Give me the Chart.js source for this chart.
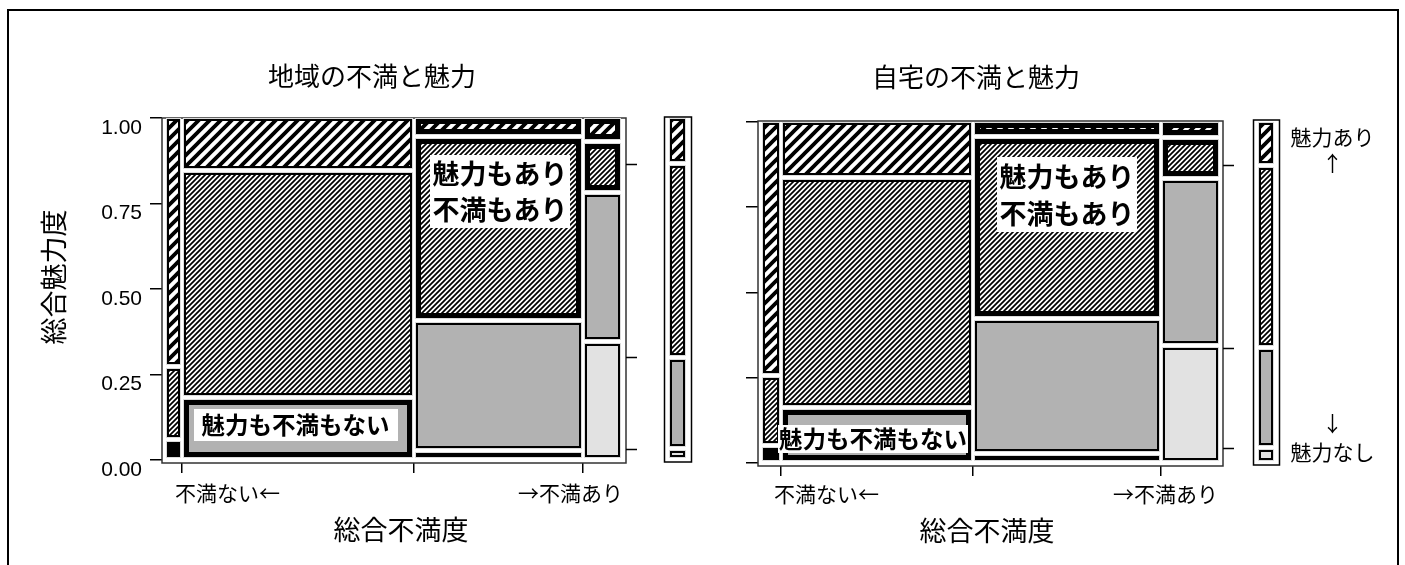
<!DOCTYPE html>
<html lang="ja"><head><meta charset="utf-8">
<title>地域・自宅の不満と魅力</title>
<script src="https://cdn.jsdelivr.net/npm/chart.js@4/dist/chart.umd.min.js"></script>
<style>
html,body{margin:0;padding:0;background:#fff;}
body{width:1405px;height:565px;overflow:hidden;position:relative;}
#border{position:absolute;left:7px;top:9px;width:1392px;height:600px;border:2px solid #000;box-sizing:border-box;}
canvas{position:absolute;top:0;}
</style></head><body>
<div id="border"></div>
<canvas id="c1" width="705" height="565" style="left:0"></canvas>
<canvas id="c2" width="700" height="565" style="left:705px"></canvas>
<script>
// ---------------- data ----------------
const panelTitles = ['地域の不満と魅力', '自宅の不満と魅力'];
const xAxisTitle = '総合不満度';
const yAxisTitle = '総合魅力度';
const xEndLabels = ['不満ない←', '→不満あり'];
const yTickValues = [0, 0.25, 0.5, 0.75, 1];
const yTickLabels = ['0.00', '0.25', '0.50', '0.75', '1.00'];
const legendLabels = ['魅力あり', '↑', '↓', '魅力なし'];
const boxLabelNone = ['魅力も不満もない'];
const boxLabelBoth = ['魅力もあり', '不満もあり'];

// 地域: column width = share of each dissatisfaction level (low -> high)
const areaColShare = [0.029, 0.517, 0.374, 0.080];
// inside each column: share of attractiveness level, bottom -> top (なし, 低, 中, あり)
const areaCol1 = [0.000, 0.046, 0.208, 0.746];
const areaCol2 = [0.000, 0.175, 0.678, 0.147];
const areaCol3 = [0.012, 0.388, 0.555, 0.045];
const areaCol4 = [0.350, 0.448, 0.142, 0.060];
const areaMargin = [0.018, 0.268, 0.585, 0.129];
const areaHighlight = [[0,1,0,0],[0,1,0,0],[1,0,1,1],[0,0,1,1]];

// 自宅
const homeColShare = [0.036, 0.425, 0.414, 0.125];
const homeCol1 = [0.000, 0.038, 0.198, 0.764];
const homeCol2 = [0.000, 0.153, 0.688, 0.159];
const homeCol3 = [0.012, 0.405, 0.549, 0.034];
const homeCol4 = [0.348, 0.503, 0.112, 0.037];
const homeMargin = [0.031, 0.295, 0.552, 0.122];
const homeHighlight = [[0,1,0,0],[0,1,0,0],[1,0,1,1],[0,0,1,1]];

// ---------------- layout / style ----------------
const JP = '"Noto Sans CJK JP","Noto Sans CJK SC",sans-serif';
const GAPX = 0.0088, GAPY = 0.0147, Y0 = 0.008, Y1 = 0.996;
const LIGHT = '#e2e2e2', GRAY = '#b2b2b2';

const panels = [
  { canvas:'c1', title:panelTitles[0], shares:areaColShare, cols:[areaCol1,areaCol2,areaCol3,areaCol4],
    margin:areaMargin, hl:areaHighlight,
    g:{ top:118, right:79, yAxisW:162, xAxisH:102, xMin:-0.011, xMax:1.0132, yMin:-0.00877, yMax:1.0,
        yLabels:true, yTitle:[-0.2494,0.5351], legend:null,
        title:[0.4525,1.1228], xTitle:[0.5166,-0.2047], xLab:[0.0177,1.0066,-0.0965],
        box1:{at:[0.2837,0.1038], padX:8, padY:4}, box2:{at:[0.7351,0.7851], padX:2.5, lineH:36},
        marg:{outer:[1.0971,1.1567], inner:[1.1104,1.1435]} } },
  { canvas:'c2', title:panelTitles[1], shares:homeColShare, cols:[homeCol1,homeCol2,homeCol3,homeCol4],
    margin:homeMargin, hl:homeHighlight,
    g:{ top:121, right:182, yAxisW:53, xAxisH:99, xMin:-0.011, xMax:1.011, yMin:-0.0088, yMax:1.0029,
        yLabels:false, yTitle:null, legend:{x:1.2516, ys:[0.956,0.8798,0.1173,0.0323]},
        title:[0.4681,1.132], xTitle:[0.4923,-0.1994], xLab:[0.0242,1.0,-0.0909],
        box1:{at:[0.2418,0.0718], padX:1, padY:2}, box2:{at:[0.6681,0.7859], padX:2.5, lineH:37},
        marg:{outer:[1.0769,1.1341], inner:[1.0901,1.1209]} } }
];

function colRanges(shares) {
  const avail = 1 - GAPX * (shares.length - 1);
  let x = 0;
  return shares.map(s => { const r = [x, x + s * avail]; x += s * avail + GAPX; return r; });
}
function stackRanges(props) {
  const nz = props.filter(p => p > 0).length;
  const avail = (Y1 - Y0) - GAPY * (nz - 1);
  let y = Y0;
  return props.map(p => { if (p <= 0) return null; const r = [y, y + p * avail]; y += p * avail + GAPY; return r; });
}
function makeHatch(ctx, period, lw) {
  const c = document.createElement('canvas');
  c.width = period; c.height = period;
  const g = c.getContext('2d');
  g.fillStyle = '#fff'; g.fillRect(0, 0, period, period);
  g.strokeStyle = '#000'; g.lineWidth = lw;
  g.beginPath();
  for (let k = -1; k <= 1; k++) {
    g.moveTo(k * period - period * 0.5, period * 1.5);
    g.lineTo(k * period + period * 1.5, -period * 0.5);
  }
  g.stroke();
  return ctx.createPattern(c, 'repeat');
}
function drawTile(ctx, x, y, w, h, fill, thick) {
  ctx.fillStyle = '#dcdcdc'; ctx.fillRect(x - 1, y - 1, w + 2, h + 2);
  const b = thick ? 5 : 2;
  ctx.fillStyle = '#000'; ctx.fillRect(x, y, w, h);
  const solid = thick && w < 20;
  if (!solid && w - 2 * b > 0 && h - 2 * b > 0) { ctx.fillStyle = fill; ctx.fillRect(x + b, y + b, w - 2 * b, h - 2 * b); }
}
function text(ctx, s, x, y, font, align) {
  ctx.font = font; ctx.textAlign = align || 'center'; ctx.textBaseline = 'middle'; ctx.fillStyle = '#000';
  ctx.fillText(s, x, y);
}

function mosaicPlugin(panel) {
  return {
    id: 'mosaic',
    afterDraw(chart) {
      const ctx = chart.ctx, xs = chart.scales.x, ys = chart.scales.y, ca = chart.chartArea, g = panel.g;
      const X = v => Math.round(xs.getPixelForValue(v));
      const Y = v => Math.round(ys.getPixelForValue(v));
      const fills = [LIGHT, GRAY, makeHatch(ctx, 5, 1.7), makeHatch(ctx, 11, 3.8)];
      ctx.save();
      // plot frame
      ctx.strokeStyle = '#333'; ctx.lineWidth = 1.5;
      ctx.strokeRect(ca.left, ca.top, ca.right - ca.left, ca.bottom - ca.top);
      // mosaic tiles
      colRanges(panel.shares).forEach((cr, i) => {
        stackRanges(panel.cols[i]).forEach((r, k) => {
          if (!r) return;
          const x0 = X(cr[0]), x1 = X(cr[1]), yt = Y(r[1]), yb = Y(r[0]);
          drawTile(ctx, x0, yt, x1 - x0, yb - yt, fills[k], !!panel.hl[i][k]);
        });
      });
      // marginal bar
      const mo = g.marg.outer, mi = g.marg.inner;
      ctx.strokeStyle = '#000'; ctx.lineWidth = 1.5;
      ctx.strokeRect(X(mo[0]) + 0.5, ca.top - 1, X(mo[1]) - X(mo[0]), ca.bottom - ca.top);
      const mr = stackRanges(panel.margin);
      mr.forEach((r, k) => {
        if (!r) return;
        const yt = Y(r[1]), yb = Y(r[0]);
        drawTile(ctx, X(mi[0]), yt, X(mi[1]) - X(mi[0]), yb - yt, fills[k], false);
      });
      // right-side ticks at marginal boundaries
      ctx.strokeStyle = '#000'; ctx.lineWidth = 1.5; ctx.beginPath();
      for (let k = 0; k < mr.length - 1; k++) {
        const y = Math.round(ys.getPixelForValue((mr[k][1] + mr[k + 1][0]) / 2)) + 0.5;
        ctx.moveTo(ca.right, y); ctx.lineTo(ca.right + 11, y);
      }
      ctx.stroke();
      // texts
      text(ctx, panel.title, xs.getPixelForValue(g.title[0]), ys.getPixelForValue(g.title[1]), `26px ${JP}`);
      text(ctx, xAxisTitle, xs.getPixelForValue(g.xTitle[0]), ys.getPixelForValue(g.xTitle[1]), `27px ${JP}`);
      const ly = ys.getPixelForValue(g.xLab[2]);
      text(ctx, xEndLabels[0], xs.getPixelForValue(g.xLab[0]), ly, `21px ${JP}`, 'left');
      text(ctx, xEndLabels[1], xs.getPixelForValue(g.xLab[1]), ly, `21px ${JP}`, 'right');
      if (g.yTitle) {
        ctx.save();
        ctx.translate(xs.getPixelForValue(g.yTitle[0]), ys.getPixelForValue(g.yTitle[1]));
        ctx.rotate(-Math.PI / 2);
        text(ctx, yAxisTitle, 0, 0, `27px ${JP}`);
        ctx.restore();
      }
      if (g.legend) {
        legendLabels.forEach((s, i) => text(ctx, s, xs.getPixelForValue(g.legend.x), ys.getPixelForValue(g.legend.ys[i]), `21px ${JP}`));
      }
      // boxed labels
      {
        const f = `bold 23.5px ${JP}`; ctx.font = f;
        const w = ctx.measureText(boxLabelNone[0]).width + 2 * g.box1.padX, h = 23.5 + 2 * g.box1.padY;
        const cx = xs.getPixelForValue(g.box1.at[0]), cy = ys.getPixelForValue(g.box1.at[1]);
        ctx.fillStyle = '#fff'; ctx.fillRect(Math.round(cx - w / 2), Math.round(cy - h / 2), Math.round(w), Math.round(h));
        text(ctx, boxLabelNone[0], cx, cy + 1, f);
      }
      {
        const f = `bold 27px ${JP}`; ctx.font = f;
        const tw = Math.max(...boxLabelBoth.map(s => ctx.measureText(s).width));
        const w = tw + 2 * g.box2.padX, h = g.box2.lineH * boxLabelBoth.length + 1;
        const cx = xs.getPixelForValue(g.box2.at[0]), cy = ys.getPixelForValue(g.box2.at[1]);
        ctx.fillStyle = '#fff'; ctx.fillRect(Math.round(cx - w / 2), Math.round(cy - h / 2), Math.round(w), Math.round(h));
        boxLabelBoth.forEach((s, i) => text(ctx, s, cx, cy - h / 2 + g.box2.lineH * (i + 0.5) + 1, f));
      }
      ctx.restore();
    }
  };
}

panels.forEach(panel => {
  const g = panel.g;
  new Chart(document.getElementById(panel.canvas), {
    type: 'scatter',
    data: { datasets: [{ label: panel.title, data: [], pointRadius: 0 }] },
    options: {
      responsive: false, animation: false, devicePixelRatio: 1, events: [],
      layout: { padding: { top: g.top, right: g.right, left: 0, bottom: 0 } },
      plugins: { legend: { display: false }, title: { display: false }, tooltip: { enabled: false } },
      scales: {
        x: {
          type: 'linear', min: g.xMin, max: g.xMax,
          afterFit: s => { s.height = g.xAxisH; },
          afterBuildTicks: s => {
            const cr = colRanges(panel.shares);
            s.ticks = cr.slice(0, -1).map((r, i) => ({ value: (r[1] + cr[i + 1][0]) / 2 }));
          },
          ticks: { callback: () => '', autoSkip: false },
          grid: { drawOnChartArea: false, tickLength: 10, color: '#000', lineWidth: 1.5 },
          border: { display: false }
        },
        y: {
          type: 'linear', min: g.yMin, max: g.yMax,
          afterFit: s => { s.width = g.yAxisW; },
          afterBuildTicks: s => { s.ticks = yTickValues.map(v => ({ value: v })); },
          ticks: {
            callback: (v, i) => g.yLabels ? yTickLabels[i] : '',
            font: { family: 'Liberation Sans, Arial, sans-serif', size: 21 }, color: '#000',
            padding: 8, labelOffset: 10, autoSkip: false
          },
          grid: { drawOnChartArea: false, tickLength: 12, color: '#000', lineWidth: 1.5 },
          border: { display: false }
        }
      }
    },
    plugins: [mosaicPlugin(panel)]
  });
});
</script>
</body></html>
